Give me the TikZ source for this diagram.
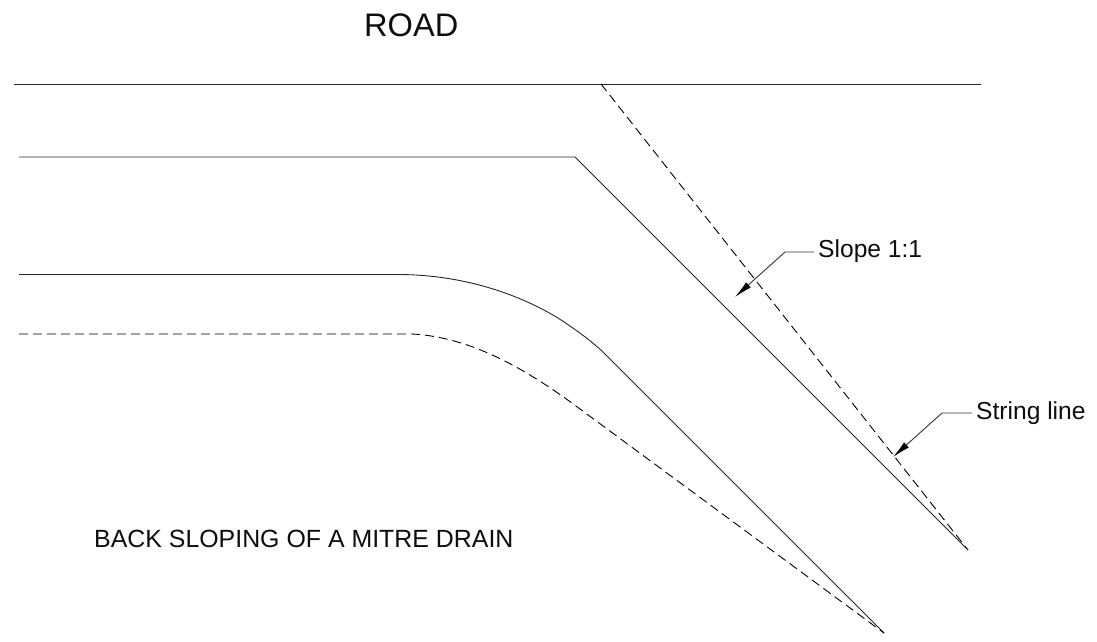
\documentclass[tikz,border=0pt]{standalone}
\usepackage{fontspec}
\setmainfont{Liberation Sans}
\usetikzlibrary{arrows.meta}
\tikzset{
  drawn/.style={line width=0.9pt,black!85},
  hidden/.style={line width=0.9pt,black,dash pattern=on 9pt off 5pt},
  leader/.style={line width=0.9pt,black!80,-{Latex[length=18pt,width=7pt,black]}},
  lbl/.style={inner sep=0pt,text=black!95,anchor=base west}
}
\begin{document}
\begin{tikzpicture}[x=1pt,y=-1pt]
\useasboundingbox (0,0) rectangle (1097,642);
\node[lbl,font=\fontsize{32.6}{36}\selectfont] (road) at (364,37) {ROAD};
\node[lbl,font=\fontsize{24.9}{28}\selectfont] (title) at (94,547) {BACK SLOPING OF A MITRE DRAIN};
\node[lbl,font=\fontsize{24.6}{28}\selectfont] (slope) at (818,257) {Slope 1:1};
\node[lbl,font=\fontsize{24.6}{28}\selectfont] (string) at (976,419) {String line};
\coordinate (roadL) at (14,84);
\coordinate (roadR) at (981,84);
\coordinate (stringTop) at (601,84);
\coordinate (stringEnd) at (968,550);
\coordinate (edgeL) at (19,157);
\coordinate (edgeK) at (575,157);
\coordinate (drainL) at (19,274.5);
\coordinate (drainEnd) at (884,633);
\coordinate (backL) at (19,334);
\coordinate (slopeE) at (785,252);
\coordinate (slopeT) at (735,297);
\coordinate (stringE) at (942,413);
\coordinate (stringT) at (893,457);
\coordinate (slopeS) at (814,252);
\coordinate (stringS) at (972,413);
\draw[drawn] (roadL) -- (roadR);
\draw[hidden] (stringTop) -- (stringEnd);
\draw[drawn] (edgeL) -- (edgeK) -- (stringEnd);
\draw[drawn] (drainL) -- (400,274.5) .. controls (460,275) and (515,292) .. (558,318) .. controls (575,329) and (590,340) .. (602,351) -- (drainEnd);
\draw[hidden] (backL) -- (412,334) .. controls (470,337) and (525,368) .. (580,409) -- (drainEnd);
\draw[leader] (slopeS) -- (slopeE) -- (slopeT);
\draw[leader] (stringS) -- (stringE) -- (stringT);
\end{tikzpicture}
\end{document}
